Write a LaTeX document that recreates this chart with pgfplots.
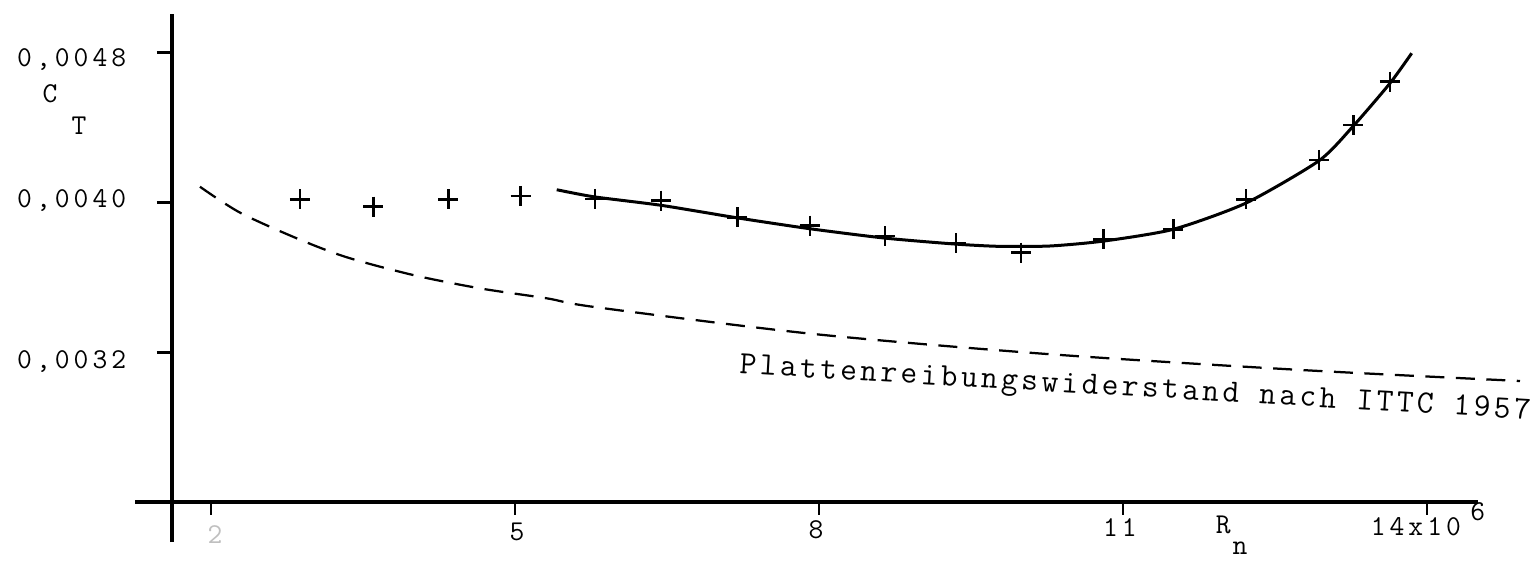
\documentclass[border=0pt]{standalone}
\usepackage{pgfplots}
\pgfplotsset{compat=1.18}
\usepackage{fontspec}
\newfontfamily\tw[LetterSpace=14]{Latin Modern Mono}
\newfontfamily\twb[LetterSpace=10.5]{Latin Modern Mono}
\tikzset{tw/.style={font=\tw\fontsize{11.5}{13}\selectfont, inner sep=0pt}}
\begin{document}
\begin{tikzpicture}
\begin{axis}[
  width=612.8pt, height=224.4pt, scale only axis,
  xmin=-0.0823, xmax=15.0366, ymin=0.002088, ymax=0.00508,
  axis lines=none, clip=false
]
% axes
\draw[line width=1.6pt] (axis cs:1.615,0.002189) -- (axis cs:1.615,0.005005);
\draw[line width=1.6pt] (axis cs:1.25,0.0024) -- (axis cs:14.504,0.0024);
% y ticks
\foreach \v in {0.0048,0.0040,0.0032}{
  \edef\tmp{\noexpand\draw[line width=0.9pt] (axis cs:1.467,\v) -- (axis cs:1.615,\v);}\tmp
}
% x ticks
\foreach \v in {2,5,8,11,14}{
  \edef\tmp{\noexpand\draw[line width=0.9pt] (axis cs:\v,0.0024) -- (axis cs:\v,0.002333);}\tmp
}
% y tick labels
\node[tw, anchor=east] at (axis cs:1.168,0.004762) {0,0048};
\node[tw, anchor=east] at (axis cs:1.168,0.004008) {0,0040};
\node[tw, anchor=east] at (axis cs:1.168,0.003152) {0,0032};
\node[tw] at (axis cs:0.411,0.00458) {C};
\node[tw] at (axis cs:0.697,0.00441) {T};
% x tick labels
\node[tw, text=black!25] at (axis cs:2.04,0.002227) {2};
\node[tw] at (axis cs:5.02,0.002243) {5};
\node[tw] at (axis cs:7.97,0.002253) {8};
\node[tw] at (axis cs:10.97,0.002269) {11};
\node[tw] at (axis cs:13.89,0.002269) {14x10};
\node[tw] at (axis cs:14.50,0.002350) {6};
\node[tw] at (axis cs:11.99,0.00228) {R};
\node[tw] at (axis cs:12.155,0.002157) {n};
% ITTC label
\node[rotate=-3.3, inner sep=0pt, font=\twb\fontsize{13}{15}\selectfont] at (axis cs:11.12,0.003) {Plattenreibungswiderstand nach ITTC 1957};

% ITTC 1957 line
\addplot[smooth, tension=0.5, line width=0.9pt, dash pattern=on 7.6pt off 4.6pt] coordinates {
(1.891,0.004084) (2.286,0.003946) (2.846,0.003809) (3.339,0.003708)
(3.996,0.003613) (4.655,0.003542) (5.313,0.003489) (5.806,0.003441)
(7.941,0.003299) (10.247,0.003192) (12.747,0.003107) (14.918,0.003048)
};
% fitted curve
\addplot[smooth, tension=0.4, line width=1.2pt] coordinates {
(5.412,0.004068) (5.783,0.004030) (6.441,0.003985) (7.194,0.003918)
(7.911,0.003860) (8.652,0.003810) (9.352,0.003778) (9.786,0.003766)
(10.280,0.003768) (10.806,0.003794) (11.497,0.003857) (12.214,0.003997)
(12.935,0.004223) (13.273,0.004408) (13.635,0.004636) (13.849,0.004796)
};
% measured points
\addplot[only marks, mark=+, mark size=4pt, mark options={line width=1.1pt}] coordinates {
(2.878,0.004017) (3.602,0.003978) (4.342,0.004017) (5.056,0.004035)
(5.790,0.004019) (6.441,0.004010) (7.194,0.003921) (7.911,0.003876)
(8.652,0.003821) (9.352,0.003782) (9.994,0.003733) (10.806,0.003804)
(11.497,0.003857) (12.214,0.004017) (12.935,0.004227) (13.273,0.004413)
(13.635,0.004644)
};
\end{axis}
\pgfresetboundingbox
\path (current axis.south west) rectangle (current axis.north east);
\end{tikzpicture}
\end{document}
